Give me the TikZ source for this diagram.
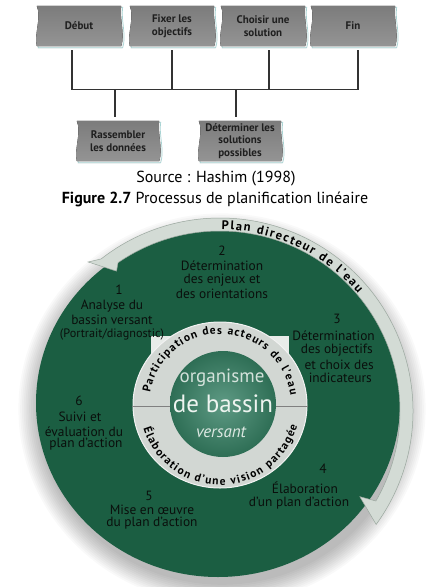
\documentclass[tikz,border=0pt]{standalone}
\usepackage{fontspec}
\setmainfont{PT Sans}
\usetikzlibrary{calc,decorations.text,backgrounds}
\definecolor{disc}{HTML}{1B5E42}
\definecolor{ink}{HTML}{0A0F0C}
\definecolor{boxtop}{HTML}{7C7C7C}
\definecolor{boxbot}{HTML}{949494}
\definecolor{ribbonedge}{HTML}{A8D3D3}
\definecolor{bandfill}{HTML}{D3DBD5}
\definecolor{bandedge}{HTML}{9AA79E}
\definecolor{ringfill}{HTML}{D2D7D3}
\definecolor{ringbg}{HTML}{E8ECE9}
\definecolor{innerA}{HTML}{5E9A84}
\definecolor{innerB}{HTML}{2E6E55}
\definecolor{centerink}{HTML}{EEF4F0}
\newcommand\ribbonpath[2]{($(#1.north west)+#2$) .. controls +(5,-12) and +(-3,12) .. ($(#1.south west)+#2$) -- ($(#1.south east)+#2$) .. controls +(4,12) and +(-2,-12) .. ($(#1.north east)+#2$) -- cycle}
\begin{document}
\begin{tikzpicture}[x=1pt,y=1pt,
  boxnode/.style={minimum width=84pt,minimum height=40pt,inner sep=0pt,align=center,
    font=\bfseries\fontsize{11}{13}\selectfont,text=black!88},
  conn/.style={draw=black!80,line width=1.1pt},
  lab/.style={anchor=base,inner sep=0pt,text=ink,font=\fontsize{13.4}{14}\selectfont},
  labr/.style={anchor=base east,inner sep=0pt,text=ink,font=\fontsize{13.4}{14}\selectfont},
  ctext/.style={inner sep=0pt,text=centerink}]
\begin{scope}[on background layer]
  \fill[white] (0,0) rectangle (447,-587);
\end{scope}
\useasboundingbox (0,0) rectangle (447,-587);

% ---------- linear process ----------
\node[boxnode] (b1) at (79,-26) {Début};
\node[boxnode] (b2) at (172,-26) {Fixer les\\objectifs};
\node[boxnode] (b3) at (263,-26) {Choisir une\\solution};
\node[boxnode] (b4) at (353,-26) {Fin};
\node[boxnode,minimum width=82pt] (b5) at (118,-141) {Rassembler\\les données};
\node[boxnode,minimum width=82pt,font=\bfseries\fontsize{11}{12.5}\selectfont] (b6) at (240,-141) {Déterminer les\\solutions\\possibles};
\begin{scope}[on background layer]
  \foreach \b in {b1,b2,b3,b4,b5,b6}{
    \fill[black,opacity=0.06] \ribbonpath{\b}{(1,-2.5)};
    \draw[ribbonedge,line width=0.7pt] \ribbonpath{\b}{(1.5,-1.5)};
    \fill[top color=boxtop,bottom color=boxbot] \ribbonpath{\b}{(0,0)};
  }
\end{scope}
\coordinate (t1) at ([xshift=-7pt,yshift=-4pt]b1.south);
\coordinate (t2) at ([yshift=-4pt]b2.south);
\coordinate (t3) at ([xshift=6pt,yshift=-4pt]b3.south);
\coordinate (t4) at ([xshift=5pt,yshift=-4pt]b4.south);
\coordinate (t5) at ([xshift=-3pt,yshift=4pt]b5.north);
\coordinate (t6) at ([xshift=-4pt,yshift=4pt]b6.north);
\coordinate (busL) at (t1 |- 0,-89.5);
\coordinate (busR) at (t4 |- 0,-89.5);
\draw[conn] (t1) -- (busL) -- (busR) -- (t4);
\draw[conn] (t2) -- (t2 |- busL);
\draw[conn] (t3) -- (t3 |- busL);
\draw[conn] (t5) -- (t5 |- busL);
\draw[conn] (t6) -- (t6 |- busL);

\node[font=\fontsize{16}{18}\selectfont,inner sep=0pt] (src) at (216,-179) {Source : Hashim (1998)};
\node[font=\fontsize{16}{18}\selectfont,inner sep=0pt] (fig) at (215,-199) {\textbf{Figure 2.7} Processus de planification linéaire};

% ---------- cycle ----------
\foreach \i in {1,...,12}{
  \fill[black,opacity=0.022] (222,-409) ellipse[x radius={(182+1.8*\i)*1pt}, y radius={(174+1.8*\i)*1pt}];
}
\fill[disc] (218,-403) ellipse[x radius=182pt, y radius=174pt];

\begin{scope}[shift={(220,-411)}]
  \filldraw[fill=bandfill,draw=bandedge,line width=0.5pt]
    (-36:193pt) arc[start angle=-36, end angle=128, radius=193pt]
    -- (131.5:199pt) -- (126.5:174pt) -- (124.5:180pt)
    arc[start angle=124.5, end angle=-30, radius=180pt]
    -- (-31.5:164pt) -- cycle;
  \path[decorate,decoration={text along path,
      text={|\bfseries\fontsize{12.5}{12.5}\selectfont|Plan directeur de l’eau},
      text align=fit to path}]
    (89.5:181.5pt) arc[start angle=89.5, end angle=40.5, radius=181.5pt];
\end{scope}

\fill[ringbg] (151,-336) rectangle (289,-404);
\filldraw[fill=ringfill,draw=white!90!gray,line width=1pt] (220,-405) ellipse[x radius=87pt, y radius=83pt];
\draw[gray,line width=0.6pt] (132,-406) -- (308,-406);
\shade[inner color=innerA,outer color=innerB] (223,-404) circle[radius=53pt];

\begin{scope}[shift={(220,-405)}]
  \path[decorate,decoration={text along path,
      text={|\bfseries\fontsize{11.5}{11.5}\selectfont|Participation des acteurs de l’eau},
      text align=fit to path}]
    (170:71pt) arc[start angle=170, end angle=8, radius=71pt];
  \path[decorate,decoration={text along path,
      text={|\bfseries\fontsize{11.5}{11.5}\selectfont|Élaboration d’une vision partagée},
      text align=fit to path}]
    (197:80pt) arc[start angle=197, end angle=345, radius=80pt];
\end{scope}

\node[ctext,font=\fontsize{19}{19}\selectfont,opacity=0.85] (org) at (222,-378) {organisme};
\node[ctext,font=\fontsize{25}{25}\selectfont] (bas) at (223,-404) {de bassin};
\node[ctext,font=\itshape\fontsize{17}{17}\selectfont,opacity=0.9] (ver) at (221,-432) {versant};

% labels
\node[lab] (n2) at (222,-255) {2};
\node[lab] (l2a) at (222,-270) {Détermination};
\node[lab] (l2b) at (222,-283.5) {des enjeux et};
\node[lab] (l2c) at (222,-298.5) {des orientations};

\node[lab] (n1) at (119,-294) {1};
\node[lab] (l1a) at (112,-309.5) {Analyse du};
\node[lab] (l1b) at (112,-324) {bassin versant};
\node[lab,font=\fontsize{12.2}{12}\selectfont] (l1c) at (112,-337.5) {(Portrait/diagnostic)};

\node[lab] (n3) at (337,-323) {3};
\node[labr] (l3a) at (375,-340.5) {Détermination};
\node[labr] (l3b) at (373,-353.5) {des objectifs};
\node[labr] (l3c) at (374,-369) {et choix des};
\node[labr] (l3d) at (372,-382.5) {indicateurs};

\node[lab] (n6) at (79,-405) {6};
\node[lab] (l6a) at (80,-421.5) {Suivi et};
\node[lab] (l6b) at (84,-436) {évaluation du};
\node[lab] (l6c) at (86,-447.5) {plan d’action};

\node[lab] (n5) at (149,-500) {5};
\node[lab] (l5a) at (152,-514) {Mise en œuvre};
\node[lab] (l5b) at (152,-526.5) {du plan d’action};

\node[lab] (n4) at (323,-473) {4};
\node[lab] (l4a) at (305,-493) {Élaboration};
\node[lab] (l4b) at (299,-506) {d’un plan d’action};
\end{tikzpicture}
\end{document}
